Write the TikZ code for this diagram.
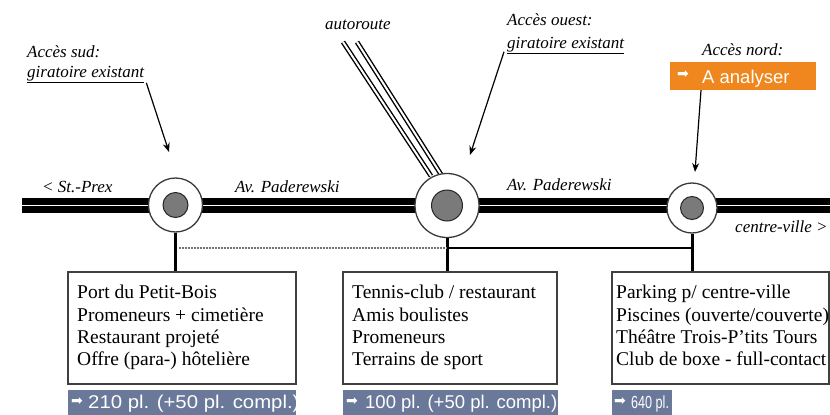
\documentclass[tikz,border=0pt]{standalone}
\usepackage{fontspec}
\setmainfont{Liberation Serif}
\newfontfamily\arialf{Liberation Sans}
\newfontfamily\dejavu{DejaVu Sans}
\usetikzlibrary{arrows.meta}
\definecolor{slate}{HTML}{6A7899}
\definecolor{orng}{HTML}{F0871E}
\definecolor{ringc}{HTML}{3A3A3A}
\definecolor{hubc}{HTML}{7A7A7A}
\begin{document}
\begin{tikzpicture}[x=1pt,y=-1pt,
  lab/.style={font=\fontsize{17}{19}\selectfont\itshape, inner sep=0pt, anchor=base west},
  ring/.style={circle, draw=ringc, line width=1.3pt, fill=white, inner sep=0pt},
  hub/.style={circle, draw=black!85, line width=1pt, fill=hubc, inner sep=0pt},
  infobox/.style={draw=black!75, line width=1.2pt, inner sep=0pt},
  boxtext/.style={font=\fontsize{19.5}{22.3}\selectfont, align=left, anchor=north west, inner sep=0pt},
  bar/.style={fill=slate, inner sep=0pt, minimum height=26pt},
  bartext/.style={text=white, anchor=base west, inner sep=0pt, font=\arialf\fontsize{18.5}{20}\selectfont},
  bararrow/.style={text=white, inner sep=0pt, font=\dejavu\fontsize{14}{14}\selectfont},
  acc/.style={line width=1.2pt, -{Stealth[length=9pt,width=7pt]}},
  stem/.style={line width=3pt},
  hwy/.style={double=white, double distance=2pt, line width=1.4pt},
]
\useasboundingbox (0,0) rectangle (830,415);
\fill[white] (0,0) rectangle (830,415);

% main road
\draw[line width=15pt] (22,205.5) -- (830,205.5);
\draw[white, line width=1.6pt] (22,205.5) -- (830,205.5);

% autoroute
\draw[hwy] (343,42) -- (431,176);
\draw[hwy] (357,42) -- (442,176);

% roundabouts
\node[ring, minimum size=54pt] (c1) at (175.5,205) {};
\node[hub, minimum size=25pt] (h1) at (c1) {};
\node[ring, minimum size=64pt] (c2) at (447,205.5) {};
\node[hub, minimum size=31pt] (h2) at (c2) {};
\node[ring, minimum size=50pt] (c3) at (692,208) {};
\node[hub, minimum size=23pt] (h3) at (c3) {};

% boxes
\node[infobox, minimum width=228pt, minimum height=112pt] (b1) at (182,328) {};
\node[infobox, minimum width=214pt, minimum height=112pt] (b2) at (450,328) {};
\node[infobox, minimum width=217pt, minimum height=112pt] (b3) at (720.5,328) {};

\node[boxtext] (t1) at (77,285) {Port du Petit-Bois\\Promeneurs + cimetière\\Restaurant projeté\\Offre (para-) hôtelière};
\node[boxtext] (t2) at (352,285) {Tennis-club / restaurant\\Amis boulistes\\Promeneurs\\Terrains de sport};
\node[boxtext] (t3) at (616,285) {Parking p/ centre-ville\\Piscines (ouverte/couverte)\\Théâtre Trois-P'tits Tours\\Club de boxe - full-contact};

% connectors
\draw[stem] (c1.south) -- (c1.south |- b1.north);
\draw[stem] (c2.south) -- (c2.south |- b2.north);
\draw[stem] (c3.south) -- (c3.south |- b3.north);
\path (c1.south |- 0,248) coordinate (j1);
\path (c2.south |- 0,248) coordinate (j2);
\path (c3.south |- 0,248) coordinate (j3);
\draw[black!55, line width=1.6pt, dash pattern=on 2pt off 1pt] ([xshift=3pt]j1) -- (j2);
\draw[line width=2pt] (j2) -- (j3);

% bars
\node[bar, minimum width=228pt] (p1) at (182,403) {};
\node[bar, minimum width=215pt] (p2) at (450.5,403) {};
\node[bar, minimum width=60pt] (p3) at (642,403) {};
\node[bararrow] (r1) at (77,402) {➡};
\node[bararrow] (r2) at (352,402) {➡};
\node[bararrow] (r3) at (620,402) {➡};
\node[bartext] (q1) at (88,408) {\scalebox{1.1}[1]{210 pl. (+50 pl. compl.)}};
\node[bartext] (q2) at (365,408) {\scalebox{1.0}[1]{100 pl. (+50 pl. compl.)}};
\node[bartext, font=\arialf\fontsize{17.5}{19}\selectfont] (q3) at (631,408) {\scalebox{0.72}[1]{640 pl.}};

% labels
\node[lab] (sud1) at (27,57) {Accès sud:};
\node[lab] (sud2) at (27,77) {\underline{giratoire existant}};
\node[lab] (auto) at (325,29) {autoroute};
\node[lab] (oue1) at (507,25) {Accès ouest:};
\node[lab] (oue2) at (507,48) {\underline{giratoire existant}};
\node[lab] (nor1) at (702,55) {Accès nord:};
\node[lab] (rd1) at (42,192) {< St.-Prex};
\node[lab] (rd2) at (235,192) {Av. Paderewski};
\node[lab] (rd3) at (507,190) {Av. Paderewski};
\node[lab] (rd4) at (735,232) {centre-ville >};

% orange box
\node[fill=orng, minimum width=146pt, minimum height=28pt, inner sep=0pt] (ana) at (743,76) {};
\node[bararrow] (ar) at (683,75) {➡};
\node[bartext] (anat) at (702,83) {A analyser};

% access arrows
\coordinate (a1) at (169,152);
\coordinate (a2) at (470,155);
\coordinate (a3) at (695,172);
\draw[acc] ([xshift=2pt]sud2.south east) -- (a1);
\draw[acc] ([xshift=-3pt,yshift=2pt]oue2.south west) -- (a2);
\draw[acc] (ana.south -| 701,0) -- (a3);
\end{tikzpicture}
\end{document}
